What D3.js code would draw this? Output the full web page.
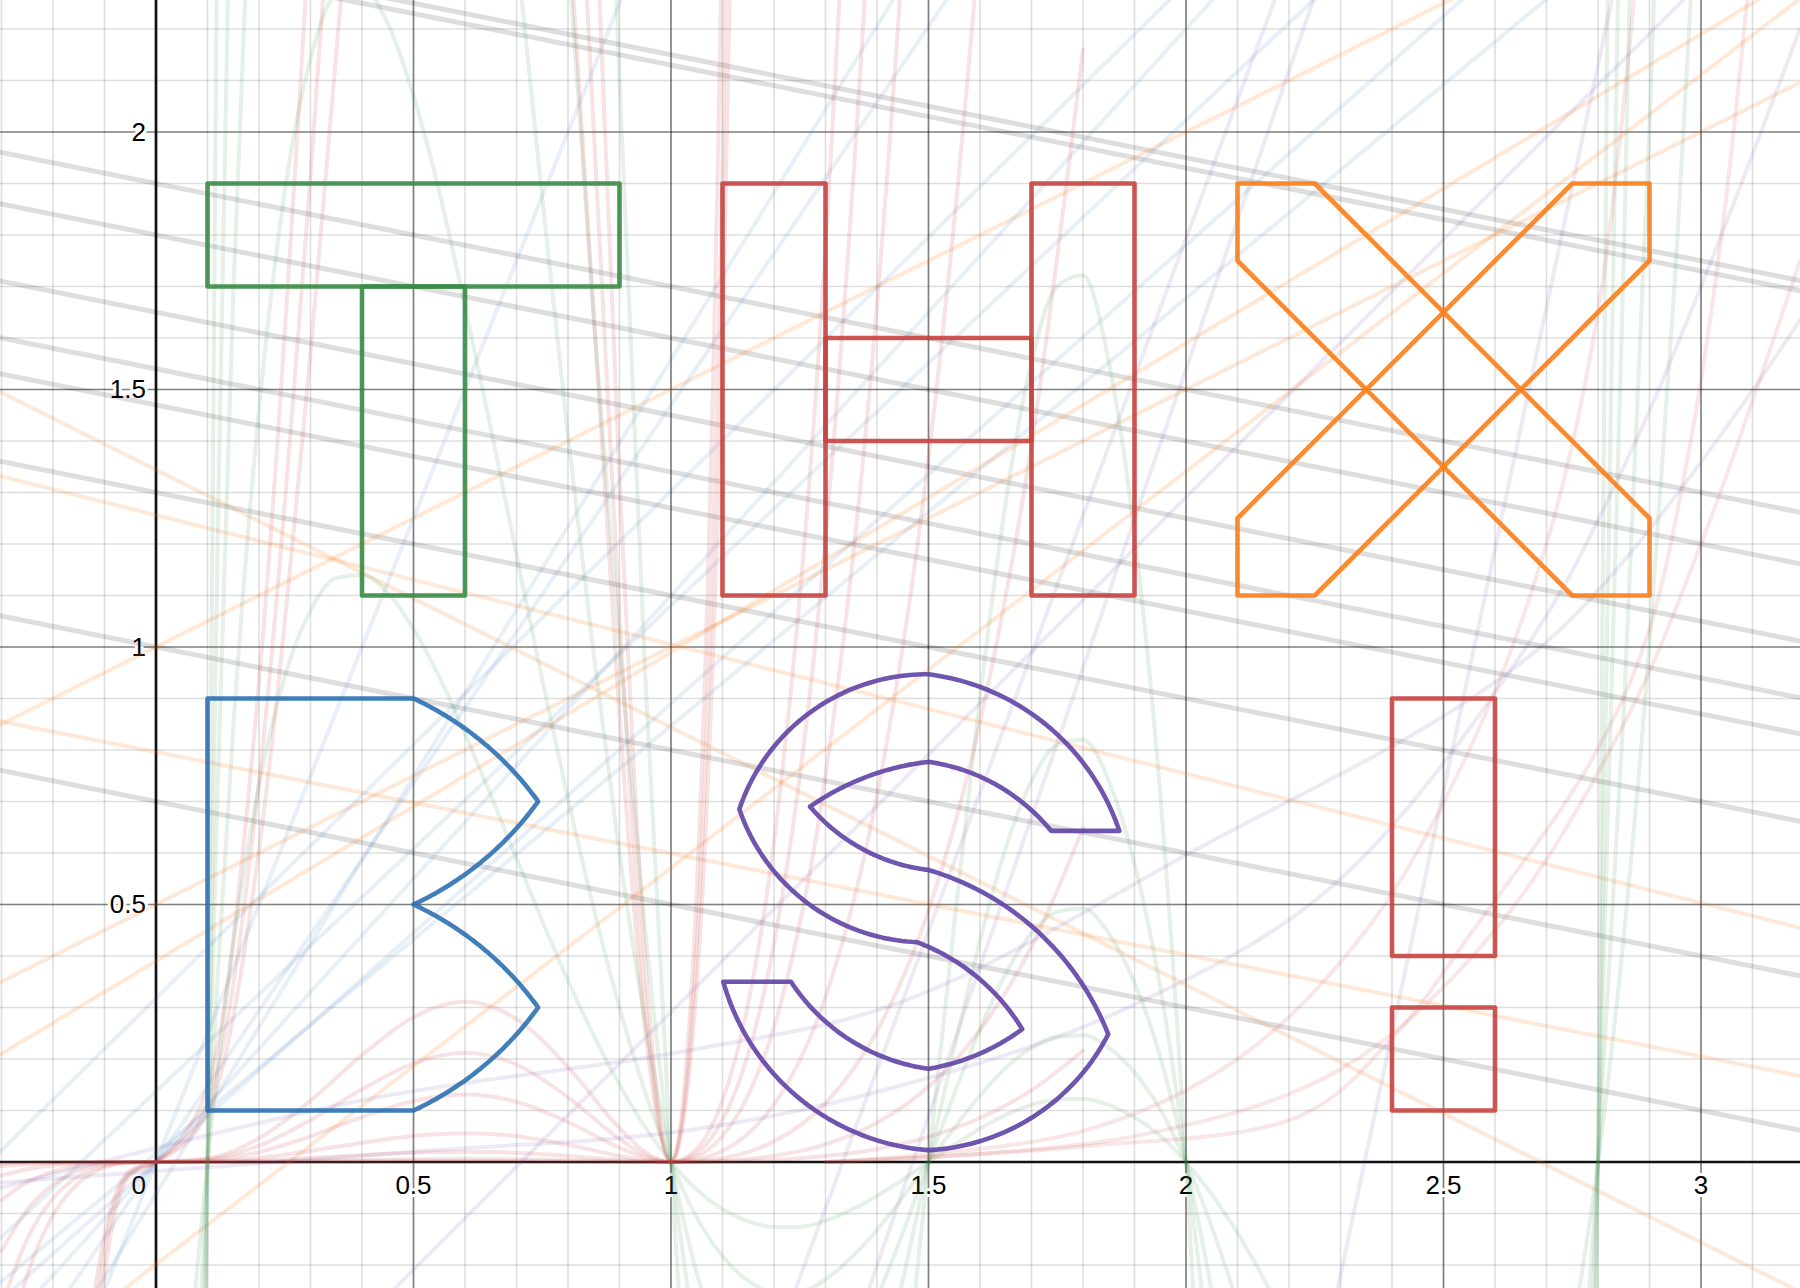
<!DOCTYPE html>
<html><head><meta charset="utf-8">
<script src="https://cdn.jsdelivr.net/npm/d3@7"></script>
<style>html,body{margin:0;padding:0;background:#fff}svg{display:block}</style>
</head><body>
<svg id="chart" width="1800" height="1288"></svg>
<script>
// ---------- view / axes ----------
const xDomain = [-0.30291, 3.19223];
const yDomain = [-0.24466, 2.25631];
const xTickValues = [0.5, 1, 1.5, 2, 2.5, 3];
const xTickLabels = ["0.5", "1", "1.5", "2", "2.5", "3"];
const yTickValues = [0.5, 1, 1.5, 2];
const yTickLabels = ["0.5", "1", "1.5", "2"];
const originLabel = "0";

// ---------- letters (polygon vertices; 4-value entries carry the mid-point of an arc to the next vertex) ----------
const letterT = [
  [[0.1,1.9],[0.9,1.9],[0.9,1.7],[0.1,1.7]],
  [[0.4,1.7],[0.6,1.7],[0.6,1.1],[0.4,1.1]]
];
const letterH = [
  [[1.1,1.9],[1.3,1.9],[1.3,1.1],[1.1,1.1]],
  [[1.7,1.9],[1.9,1.9],[1.9,1.1],[1.7,1.1]],
  [[1.3,1.6],[1.7,1.6],[1.7,1.4],[1.3,1.4]]
];
const letterX = [
  [[2.1,1.9],[2.25,1.9],[2.9,1.25],[2.9,1.1],[2.75,1.1],[2.1,1.75]],
  [[2.75,1.9],[2.9,1.9],[2.9,1.75],[2.25,1.1],[2.1,1.1],[2.1,1.25]]
];
const letterB = [
  [[0.1,0.1],[0.1,0.9],[0.5,0.9,0.652,0.8],[0.742,0.7,0.652,0.6],[0.5,0.5,0.652,0.4],[0.742,0.3,0.652,0.2],[0.5,0.1]]
];
const letterS = [
  [[1.5,0.947,1.7035,0.868],[1.8705,0.643],[1.738,0.643,1.6324,0.732],[1.5,0.777,1.38,0.748],
   [1.27,0.69,1.3606,0.614],[1.5,0.567,1.6906,0.466],[1.849,0.248,1.7035,0.088],[1.5,0.023,1.27,0.1074],
   [1.1016,0.35],[1.233,0.35,1.3476,0.2369],[1.5,0.181,1.5935,0.2078],[1.682,0.258,1.5935,0.36],
   [1.477,0.427,1.283,0.49],[1.1327,0.685,1.283,0.882]]
];
const letterBang = [
  [[2.4,0.9],[2.6,0.9],[2.6,0.4],[2.4,0.4]],
  [[2.4,0.3],[2.6,0.3],[2.6,0.1],[2.4,0.1]]
];
const letters = [
  {shapes: letterT, color: "#388c46"},
  {shapes: letterH, color: "#c74440"},
  {shapes: letterX, color: "#fa7e19"},
  {shapes: letterB, color: "#2d70b3"},
  {shapes: letterS, color: "#6042a6"},
  {shapes: letterBang, color: "#c74440"}
];

// ---------- faint background lines: [intercept, slope] ----------
const grayLines = [[2.35,-0.2],[2.33,-0.2],[1.9,-0.2],[1.8,-0.2],[1.65,-0.2],[1.54,-0.2],[1.47,-0.2],[1.3,-0.2],[1.0,-0.2],[0.7,-0.2]];
const orangeLines = [[1.344,-0.5],[1.256,-0.251],[0.796,-0.197],[1.0,0.5],[0.5,0.5],[0.39,0.6],[-0.199,0.77]];
const blueLines = [[0,0.89],[0,1.1],[0,1.47],[0,2.5],[0.017,0.83],[-0.062,1.62],[0.318,0.985],[0.137,0.943]];
const purpleLines = [[-4.261,2.9],[-3.587,2.69],[-11.03,4.7],[-0.709,1.0]];

const greenX =    [-0.3,-0.2,-0.1,0,0.05,0.08,0.1,0.12,0.15,0.2,0.25,0.3,0.35,0.4,0.45,0.5,0.55,0.6,0.65,0.7,0.75,0.8,0.85,0.9,0.95,1.0,1.05,1.1,1.15,1.2,1.25,1.3,1.35,1.4,1.45,1.5,1.55,1.6,1.65,1.7,1.75,1.8,1.85,1.9,1.95,2.0,2.05,2.1,2.2,2.3,2.4,2.5,2.6,2.7,2.75,2.8,2.85,2.9,2.95,3.0,3.1,3.2];
const greenShape = [-6.674,-4.039,-2.144,-0.84,-0.369,-0.137,0,0.122,0.281,0.487,0.628,0.714,0.756,0.760,0.737,0.69,0.628,0.554,0.475,0.393,0.312,0.235,0.164,0.100,0.045,0,-0.036,-0.061,-0.077,-0.084,-0.084,-0.076,-0.062,-0.044,-0.023,0,0.022,0.043,0.061,0.074,0.081,0.082,0.074,0.058,0.034,0,-0.042,-0.092,-0.212,-0.343,-0.464,-0.54,-0.528,-0.371,-0.217,0,0.292,0.670,1.148,1.74,3.326,5.565];
const greenAmps = [1.5, 3, 6, 10, 21];

// red family
const redX =     [-0.3,-0.25,-0.2,-0.15,-0.1,-0.05,0,0.1,0.2,0.3,0.4,0.5,0.6,0.7,0.8,0.9,0.95,1.0,1.05,1.1,1.15,1.2,1.3,1.4,1.5,1.6,1.7,1.8];
const redShape = [-1.32,-0.706,-0.333,-0.129,-0.035,-0.004,0,0.023,0.148,0.383,0.667,0.904,1,0.893,0.593,0.211,0.062,0,0.084,0.385,0.99,2.0,5.72,12.7,24.41,42.67,69.66,108.0];
const redAmps = [0.002, 0.006, 0.02, 0.056, 0.131, 0.212, 0.311, 4.1, 5.0, 6.3];
const redRise = [
  [[1.3,0.0],[1.8,0.03],[2.225,0.091],[2.4,0.24],[2.559,0.452],[2.783,0.773],[2.893,1.014],[2.98,1.4],[3.04,1.8],[3.09,2.26]],
  [[1.3,0.0],[1.8,0.06],[2.1,0.2],[2.35,0.45],[2.55,0.8],[2.7,1.2],[2.8,1.65],[2.87,2.26]],
  [[1.3,0.0],[1.9,0.05],[2.3,0.18],[2.6,0.45],[2.85,0.85],[3.0,1.2],[3.192,1.75]]
];
const purpleCurves = [
  [[-0.3,-0.04],[0.5,0.02],[1.037,0.062],[1.445,0.148],[1.868,0.291],[2.28,0.532],[2.67,1.014],[2.85,1.35],[3.0,1.7],[3.192,2.2]],
  [[-0.3,-0.05],[0.4,0.12],[1.037,0.217],[1.445,0.31],[2.0,0.596],[2.705,1.014],[3.192,1.635]]
];

// ---------- drawing ----------
const W = 1800, H = 1288;
const svg = d3.select("#chart");
const x = d3.scaleLinear().domain(xDomain).range([0, W]);
const y = d3.scaleLinear().domain(yDomain).range([H, 0]);
const line = d3.line().x(d => x(d[0])).y(d => y(d[1]));
const smooth = d3.line().x(d => x(d[0])).y(d => y(d[1])).curve(d3.curveMonotoneX);
const smoothCR = d3.line().x(d => x(d[0])).y(d => y(d[1])).curve(d3.curveCatmullRom);

svg.append("rect").attr("width", W).attr("height", H).attr("fill", "#fff");

const isZero = v => Math.abs(v) < 1e-9;
const gGrid = svg.append("g");
// minor grid
gGrid.selectAll(".mx").data(x.ticks(35).filter(t => !isZero(t))).join("line")
  .attr("x1", d => x(d)).attr("x2", d => x(d)).attr("y1", 0).attr("y2", H)
  .attr("stroke", "#000").attr("stroke-opacity", 0.13).attr("stroke-width", 1.6);
gGrid.selectAll(".my").data(y.ticks(25).filter(t => !isZero(t))).join("line")
  .attr("y1", d => y(d)).attr("y2", d => y(d)).attr("x1", 0).attr("x2", W)
  .attr("stroke", "#000").attr("stroke-opacity", 0.13).attr("stroke-width", 1.6);
// major grid
const gMaj = svg.append("g");
gMaj.selectAll("line.v").data(x.ticks(7).filter(t => !isZero(t))).join("line").attr("class","v")
  .attr("x1", d => x(d)).attr("x2", d => x(d)).attr("y1", 0).attr("y2", H)
  .attr("stroke", "#000").attr("stroke-opacity", 0.42).attr("stroke-width", 1.7);
gMaj.selectAll("line.h").data(y.ticks(5).filter(t => !isZero(t))).join("line").attr("class","h")
  .attr("y1", d => y(d)).attr("y2", d => y(d)).attr("x1", 0).attr("x2", W)
  .attr("stroke", "#000").attr("stroke-opacity", 0.42).attr("stroke-width", 1.7);

// axes
svg.append("line").attr("x1", 0).attr("x2", W).attr("y1", y(0)).attr("y2", y(0))
  .attr("stroke", "#111").attr("stroke-width", 2.7);
svg.append("line").attr("x1", x(0)).attr("x2", x(0)).attr("y1", 0).attr("y2", H)
  .attr("stroke", "#111").attr("stroke-width", 2.7);

// tick labels
const fontFam = "'Liberation Sans', Arial, Helvetica, sans-serif";
const gLab = svg.append("g").attr("font-family", fontFam).attr("font-size", 26).attr("fill", "#000")
  .attr("stroke", "#fff").attr("stroke-width", 6).attr("stroke-linejoin", "round").attr("paint-order", "stroke");
gLab.selectAll("text.xl").data(xTickValues).join("text").attr("class", "xl")
  .attr("x", d => x(d)).attr("y", y(0) + 32).attr("text-anchor", "middle")
  .text((d, i) => xTickLabels[i]);
gLab.selectAll("text.yl").data(yTickValues).join("text").attr("class", "yl")
  .attr("x", x(0) - 10).attr("y", d => y(d) + 9).attr("text-anchor", "end")
  .text((d, i) => yTickLabels[i]);
gLab.append("text").attr("x", x(0) - 10).attr("y", y(0) + 32).attr("text-anchor", "end").text(originLabel);

// faint curves
const gFaint = svg.append("g").attr("fill", "none").attr("stroke-linecap", "round");
const ends = ([b, m]) => [[xDomain[0], b + m * xDomain[0]], [xDomain[1], b + m * xDomain[1]]];
function faintLines(data, color, op, w) {
  gFaint.append("g").selectAll("path").data(data).join("path")
    .attr("d", d => line(ends(d))).attr("stroke", color).attr("stroke-opacity", op).attr("stroke-width", w);
}
faintLines(grayLines, "#000", 0.13, 5);
faintLines(orangeLines, "#fa7e19", 0.17, 4);
faintLines(blueLines, "#2d70b3", 0.11, 4);
faintLines(purpleLines, "#6042a6", 0.11, 4);

gFaint.append("g").selectAll("path").data(greenAmps).join("path")
  .attr("d", k => smooth(greenX.map((gx, i) => [gx, k * greenShape[i]])))
  .attr("stroke", "#388c46").attr("stroke-opacity", 0.13).attr("stroke-width", 4);
gFaint.append("g").selectAll("path").data(redAmps).join("path")
  .attr("d", k => smooth(redX.map((rx, i) => [rx, k * redShape[i]])))
  .attr("stroke", "#c74440").attr("stroke-opacity", 0.15).attr("stroke-width", 4);
gFaint.append("g").selectAll("path").data(redRise).join("path")
  .attr("d", d => smoothCR(d)).attr("stroke", "#c74440").attr("stroke-opacity", 0.13).attr("stroke-width", 4);
gFaint.append("g").selectAll("path").data(purpleCurves).join("path")
  .attr("d", d => smoothCR(d)).attr("stroke", "#6042a6").attr("stroke-opacity", 0.11).attr("stroke-width", 4);

// letters
function arcThrough(p0, pm, p1, n) {
  const [ax, ay] = p0, [bx, by] = pm, [cx, cy] = p1;
  const d = 2 * (ax * (by - cy) + bx * (cy - ay) + cx * (ay - by));
  if (Math.abs(d) < 1e-9) return [p0, p1];
  const a2 = ax * ax + ay * ay, b2 = bx * bx + by * by, c2 = cx * cx + cy * cy;
  const ux = (a2 * (by - cy) + b2 * (cy - ay) + c2 * (ay - by)) / d;
  const uy = (a2 * (cx - bx) + b2 * (ax - cx) + c2 * (bx - ax)) / d;
  const r = Math.hypot(ax - ux, ay - uy);
  const TAU = Math.PI * 2;
  const a0 = Math.atan2(ay - uy, ax - ux), am = Math.atan2(by - uy, bx - ux), a1 = Math.atan2(cy - uy, cx - ux);
  const norm = v => ((v % TAU) + TAU) % TAU;
  let delta = norm(a1 - a0);
  const dm = norm(am - a0);
  if (dm > delta) delta = delta - TAU;
  const pts = [];
  for (let i = 0; i <= n; i++) {
    const a = a0 + delta * i / n;
    pts.push([ux + r * Math.cos(a), uy + r * Math.sin(a)]);
  }
  return pts;
}
function shapePath(nodes) {
  const px = nodes.map(nd => [x(nd[0]), y(nd[1])]);
  const pts = [];
  nodes.forEach((nd, i) => {
    pts.push(px[i]);
    if (nd.length === 4) {
      const nxt = px[(i + 1) % nodes.length];
      const mid = [x(nd[2]), y(nd[3])];
      const arc = arcThrough(px[i], mid, nxt, 48);
      arc.slice(1, -1).forEach(p => pts.push(p));
    }
  });
  return d3.line()(pts) + "Z";
}
const gLet = svg.append("g").attr("fill", "none").attr("stroke-width", 4.6)
  .attr("stroke-linejoin", "round").attr("stroke-linecap", "round");
letters.forEach(L => {
  gLet.append("g").selectAll("path").data(L.shapes).join("path")
    .attr("d", s => shapePath(s)).attr("stroke", L.color).attr("stroke-opacity", 0.9);
});
</script>
</body></html>
